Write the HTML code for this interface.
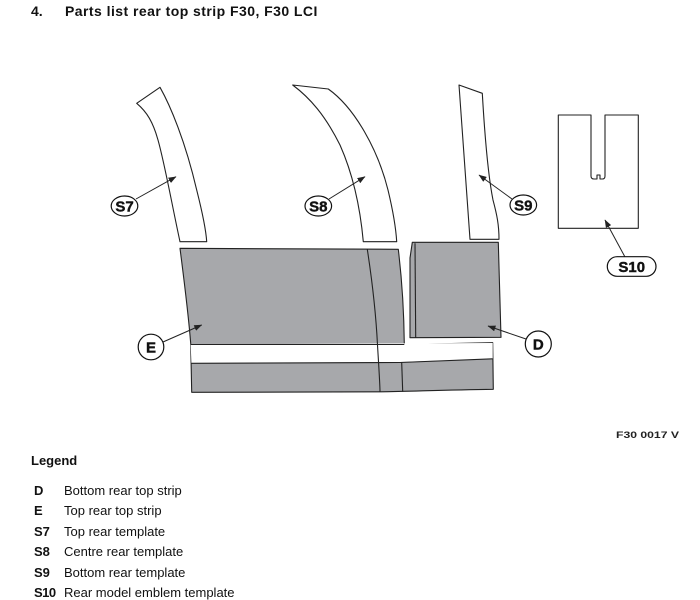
<!DOCTYPE html>
<html><head><meta charset="utf-8"><style>
html,body{margin:0;padding:0;background:#fff;}
body{width:700px;height:600px;position:relative;overflow:hidden;font-family:"Liberation Sans",Arial,sans-serif;color:#111;}
.t{position:absolute;white-space:nowrap;}
.lg{font-size:13px;}
</style></head><body>
<div class="t" style="left:31px;top:3px;font-weight:bold;font-size:14px;">4.</div>
<div class="t" style="left:65px;top:3px;font-weight:bold;font-size:14px;letter-spacing:0.45px;">Parts list rear top strip F30, F30 LCI</div>

<svg width="700" height="600" style="position:absolute;left:0;top:0" xmlns="http://www.w3.org/2000/svg">
<defs>
<marker id="ah" markerWidth="8" markerHeight="6" refX="7.5" refY="3" orient="auto" markerUnits="userSpaceOnUse">
<path d="M0,0 L8,3 L0,6 Z" fill="#222"/>
</marker>
</defs>
<g fill="none" stroke="#222" stroke-width="1.1" stroke-linejoin="round">
<path d="M136.7,103.3 L160,87.3 C170,105 185,140 196.7,190 C203,215 206,230 206.7,241.7 L180,241.7 C172,205 165,165 158,140 C153,122 147,112 136.7,103.3 Z" fill="#fff"/>
<path d="M292.7,85 L328.3,89 C355,108 378,150 388,190 C394,215 396,230 396.7,241.7 L363.3,241.7 C360,205 352,172 340,145 C325,115 310,98 292.7,85 Z" fill="#fff"/>
<path d="M459,85 L482.3,93.3 C485,140 488,175 493,200 C497,215 499,225 499,239.3 L470,239.3 L459,85 Z" fill="#fff"/>
<path d="M558.3,115 L591,115 L591,176 Q591,179 594,179 L597,179 L597,175 L600,175 L600,179 L602.5,179 Q605,179 605,176 L605,115 L638.3,115 L638.3,228.3 L558.3,228.3 Z" fill="#fff"/>
<path d="M180,248.3 L398.3,249.3 C402,280 404,315 404.3,344.5 L492.7,342.7 L493.3,389.3 C440,390 410,391.5 380,391.8 C320,392 250,392.3 191.7,392.3 L190.7,343.3 C188,310 184,280 180,248.3 Z" fill="#a7a8ab"/>
<path d="M190.7,344.5 L492.7,343 L492.7,358.8 L400,362 L191.4,363.3 Z" fill="#fff" stroke="none"/>
<path d="M190.7,344.5 L404.3,344.5" />
<path d="M191.4,363.3 L400,362.5 L492.7,358.8"/>
<path d="M367.3,249.3 C372,280 376,315 377.5,345 C379,370 380,385 380,391.7"/>
<path d="M401.7,362.5 L402.7,391.7"/>
<path d="M412.3,242.3 L498.3,242.3 L501,337.3 L410,337.7 L410,258 Z" fill="#a7a8ab"/>
<path d="M415,243.3 L415.7,337.7"/>
</g>
<g stroke="#222" stroke-width="1" fill="none">
<line x1="136" y1="199" x2="176" y2="176.7" marker-end="url(#ah)"/>
<line x1="329" y1="199" x2="365" y2="176.7" marker-end="url(#ah)"/>
<line x1="512" y1="199" x2="479" y2="175" marker-end="url(#ah)"/>
<line x1="625" y1="257" x2="605" y2="220" marker-end="url(#ah)"/>
<line x1="163" y1="342" x2="201.7" y2="325" marker-end="url(#ah)"/>
<line x1="526" y1="339" x2="488" y2="326" marker-end="url(#ah)"/>
</g>
<g stroke="#111" stroke-width="1.2" fill="#fff">
<ellipse cx="124.5" cy="206" rx="13.3" ry="10"/>
<ellipse cx="318.3" cy="206" rx="13.3" ry="10"/>
<ellipse cx="523.3" cy="205" rx="13.3" ry="10"/>
<rect x="607.3" y="256.7" width="48.7" height="19.6" rx="9.8" ry="9.8"/>
<circle cx="151" cy="347" r="12.8"/>
<circle cx="538.3" cy="344" r="13"/>
</g>
<g font-family="Liberation Sans, Arial, sans-serif" font-weight="bold" font-size="15" fill="#111" stroke="#111" stroke-width="0.4" text-anchor="middle">
<text x="124.5" y="211.5">S7</text>
<text x="318.3" y="211.5">S8</text>
<text x="523.3" y="210.5">S9</text>
<text x="631.7" y="271.8">S10</text>
<text x="151" y="352.5">E</text>
<text x="538.3" y="349.5">D</text>
</g>
<text x="616" y="438" font-family="Liberation Sans, Arial, sans-serif" font-weight="bold" font-size="9.5" fill="#222" textLength="63" lengthAdjust="spacingAndGlyphs">F30 0017 V</text>
</svg>

<div class="t" style="left:31px;top:453px;font-weight:bold;font-size:13px;">Legend</div>
<div class="t lg" style="left:34px;top:482.5px;font-weight:bold;">D</div>
<div class="t lg" style="left:64px;top:482.5px;">Bottom rear top strip</div>
<div class="t lg" style="left:34px;top:503px;font-weight:bold;">E</div>
<div class="t lg" style="left:64px;top:503px;">Top rear top strip</div>
<div class="t lg" style="left:34px;top:523.5px;font-weight:bold;">S7</div>
<div class="t lg" style="left:64px;top:523.5px;">Top rear template</div>
<div class="t lg" style="left:34px;top:544px;font-weight:bold;">S8</div>
<div class="t lg" style="left:64px;top:544px;">Centre rear template</div>
<div class="t lg" style="left:34px;top:564.5px;font-weight:bold;">S9</div>
<div class="t lg" style="left:64px;top:564.5px;">Bottom rear template</div>
<div class="t lg" style="left:34px;top:585px;font-weight:bold;letter-spacing:-0.5px;">S10</div>
<div class="t lg" style="left:64px;top:585px;">Rear model emblem template</div>
</body></html>
